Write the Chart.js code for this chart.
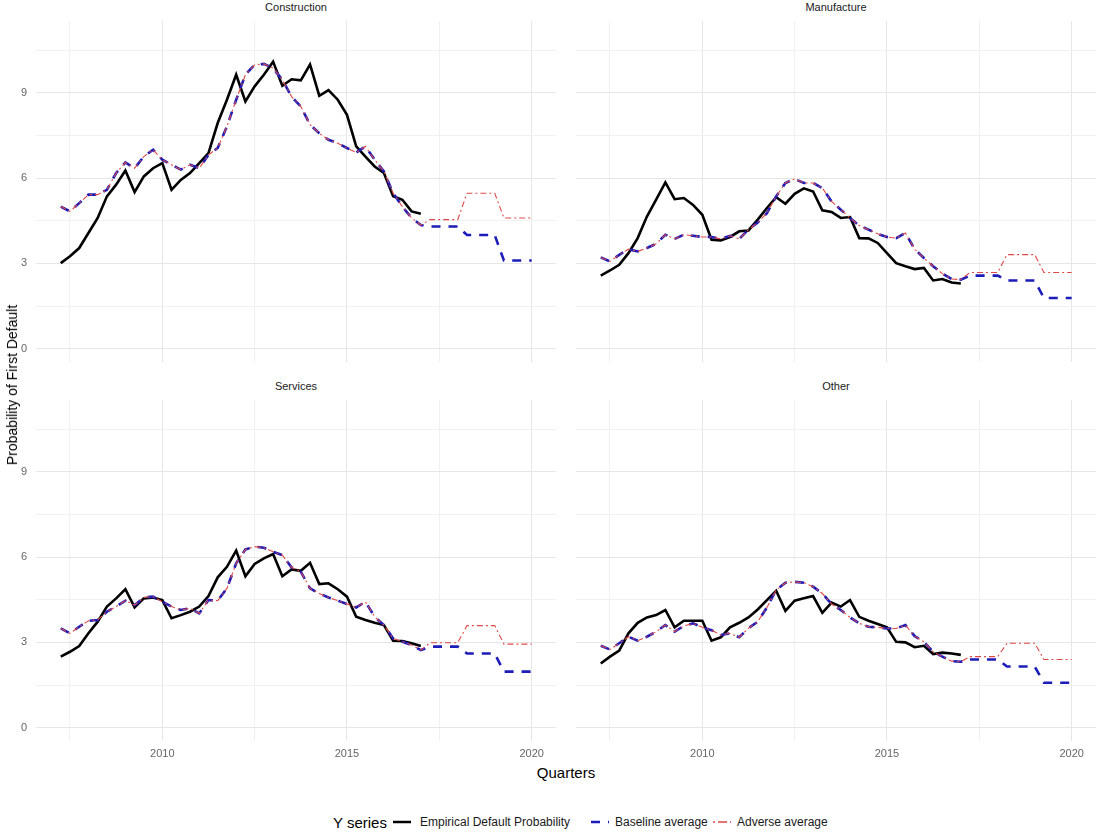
<!DOCTYPE html>
<html>
<head>
<meta charset="utf-8">
<script src="https://cdn.jsdelivr.net/npm/chart.js@4/dist/chart.umd.min.js"></script>
<style>
  body { margin: 0; background: #fff; font-family: "Liberation Sans", Arial, sans-serif; }
  #wrap { position: relative; width: 1096px; height: 833px; overflow: hidden; }
  canvas { position: absolute; }
  .strip { position: absolute; font-size: 11px; color: #1a1a1a; transform: translateX(-50%); white-space: nowrap; }
  .ytitle { position: absolute; left: 12px; top: 385px; font-size: 14px; color: #000;
            transform: translate(-50%, -50%) rotate(-90deg); white-space: nowrap; }
  .xtitle { position: absolute; left: 566px; top: 764px; font-size: 15px; color: #000; transform: translateX(-50%); }
  .lg { position: absolute; top: 822px; transform: translateY(-50%); white-space: nowrap; line-height: 1; }
  .lg.ttl { font-size: 15px; color: #000; }
  .lg.lab { font-size: 12px; color: #1a1a1a; }
  svg.lg { display: block; }
</style>
</head>
<body>
<div id="wrap">
  <canvas id="c1" style="left:0;top:21px" width="556" height="341"></canvas>
  <canvas id="c2" style="left:576px;top:21px" width="520" height="341"></canvas>
  <canvas id="c3" style="left:0;top:400px" width="556" height="362"></canvas>
  <canvas id="c4" style="left:576px;top:400px" width="520" height="362"></canvas>

  <div class="strip" style="left:296px;top:1px">Construction</div>
  <div class="strip" style="left:836px;top:1px">Manufacture</div>
  <div class="strip" style="left:296px;top:380px">Services</div>
  <div class="strip" style="left:836px;top:380px">Other</div>

  <div class="ytitle">Probability of First Default</div>
  <div class="xtitle">Quarters</div>

  <span class="lg ttl" style="left:333px">Y series</span>
  <svg class="lg" style="left:393px" width="18" height="10"><line x1="0" y1="5" x2="18" y2="5" stroke="#000" stroke-width="2.5"/></svg>
  <span class="lg lab" style="left:420px">Empirical Default Probability</span>
  <svg class="lg" style="left:591px" width="18" height="10"><line x1="0" y1="5" x2="18" y2="5" stroke="#1c1cb8" stroke-width="2.5" stroke-dasharray="9 8"/></svg>
  <span class="lg lab" style="left:615px">Baseline average</span>
  <svg class="lg" style="left:713px" width="18" height="10"><line x1="0" y1="5" x2="18" y2="5" stroke="#e04848" stroke-width="1.5" stroke-dasharray="2 3 9 3"/></svg>
  <span class="lg lab" style="left:737px">Adverse average</span>
</div>

<script>
var quarters = [2007.25,2007.5,2007.75,2008,2008.25,2008.5,2008.75,2009,2009.25,2009.5,2009.75,2010,
  2010.25,2010.5,2010.75,2011,2011.25,2011.5,2011.75,2012,2012.25,2012.5,2012.75,2013,
  2013.25,2013.5,2013.75,2014,2014.25,2014.5,2014.75,2015,2015.25,2015.5,2015.75,2016,
  2016.25,2016.5,2016.75,2017,2017.25,2017.5,2017.75,2018,2018.25,2018.5,2018.75,2019,
  2019.25,2019.5,2019.75,2020];

var xMajor = [2010, 2015, 2020];
var xMinor = [2007.5, 2012.5, 2017.5];
var yMajor = [0, 3, 6, 9];
var yMinor = [1.5, 4.5, 7.5, 10.5];

var constructionEmp = [3.01,3.25,3.54,4.07,4.6,5.36,5.77,6.27,5.51,6.06,6.35,6.53,5.59,5.94,6.18,6.53,6.88,7.94,8.76,9.64,
  8.7,9.23,9.64,10.1,9.25,9.48,9.44,10.0,8.9,9.1,8.76,8.23,7.12,6.76,6.41,6.18,5.36,5.24,4.83,4.75];
var constructionBase = [5.0,4.83,5.12,5.42,5.42,5.59,6.18,6.55,6.35,6.76,7.0,6.65,6.47,6.3,6.47,6.35,6.82,7.06,7.82,8.76,
  9.64,9.99,10.02,9.87,9.46,8.87,8.52,7.88,7.58,7.35,7.23,7.06,6.9,7.12,6.65,6.24,5.47,5.0,4.6,4.35,
  4.3,4.3,4.3,4.3,4.0,4.0,4.0,4.0,3.1,3.1,3.1,3.1];
var constructionAdv = [5.0,4.83,5.12,5.42,5.42,5.59,6.18,6.55,6.35,6.76,7.0,6.65,6.47,6.3,6.47,6.35,6.82,7.06,7.82,8.76,
  9.64,9.99,10.02,9.87,9.46,8.87,8.52,7.88,7.58,7.35,7.23,7.06,6.9,7.12,6.65,6.24,5.47,5.0,4.6,4.35,
  4.54,4.54,4.54,4.54,5.47,5.47,5.47,5.47,4.6,4.6,4.6,4.6];

var manufactureEmp = [2.57,2.75,2.95,3.36,3.89,4.65,5.24,5.85,5.26,5.3,5.06,4.71,3.83,3.81,3.93,4.13,4.16,4.54,4.95,5.33,
  5.1,5.45,5.64,5.53,4.87,4.81,4.6,4.63,3.89,3.88,3.72,3.36,3.01,2.9,2.8,2.84,2.4,2.45,2.33,2.29];
var manufactureBase = [3.21,3.07,3.3,3.5,3.42,3.54,3.69,4.01,3.86,4.01,3.97,3.93,3.93,3.86,3.97,3.86,4.19,4.44,4.77,5.36,
  5.83,5.97,5.83,5.83,5.65,5.18,4.89,4.6,4.33,4.19,4.04,3.93,3.89,4.07,3.5,3.19,2.9,2.64,2.45,2.43,
  2.57,2.57,2.57,2.57,2.4,2.4,2.4,2.4,1.78,1.78,1.78,1.78];
var manufactureAdv = [3.21,3.07,3.3,3.5,3.42,3.54,3.69,4.01,3.86,4.01,3.97,3.93,3.93,3.86,3.97,3.86,4.19,4.44,4.77,5.36,
  5.83,5.97,5.83,5.83,5.65,5.18,4.89,4.6,4.33,4.19,4.04,3.93,3.89,4.07,3.5,3.19,2.9,2.64,2.45,2.43,
  2.68,2.68,2.68,2.68,3.31,3.31,3.31,3.31,2.68,2.68,2.68,2.68];

var servicesEmp = [2.5,2.67,2.87,3.32,3.73,4.26,4.55,4.87,4.23,4.55,4.58,4.49,3.85,3.96,4.08,4.26,4.63,5.29,5.66,6.23,
  5.33,5.76,5.96,6.11,5.33,5.57,5.52,5.8,5.05,5.08,4.87,4.61,3.9,3.79,3.69,3.61,3.06,3.05,2.97,2.87];
var servicesBase = [3.49,3.32,3.55,3.76,3.79,4.08,4.26,4.47,4.31,4.58,4.61,4.43,4.26,4.14,4.2,4.02,4.49,4.47,4.9,5.78,
  6.27,6.37,6.33,6.19,6.07,5.64,5.49,4.9,4.72,4.58,4.47,4.35,4.23,4.43,3.9,3.61,3.14,3.02,2.91,2.73,
  2.85,2.85,2.85,2.85,2.61,2.61,2.61,2.61,1.97,1.97,1.97,1.97];
var servicesAdv = [3.49,3.32,3.55,3.76,3.79,4.08,4.26,4.47,4.31,4.58,4.61,4.43,4.26,4.14,4.2,4.02,4.49,4.47,4.9,5.78,
  6.27,6.37,6.33,6.19,6.07,5.64,5.49,4.9,4.72,4.58,4.47,4.35,4.23,4.43,3.9,3.61,3.14,3.02,2.91,2.73,
  2.99,2.99,2.99,2.99,3.59,3.59,3.59,3.59,2.94,2.94,2.94,2.94];

var otherEmp = [2.26,2.5,2.71,3.32,3.69,3.88,3.96,4.14,3.53,3.76,3.76,3.76,3.06,3.18,3.53,3.69,3.88,4.16,4.49,4.82,
  4.11,4.47,4.55,4.63,4.04,4.4,4.26,4.49,3.9,3.76,3.65,3.53,3.02,3.0,2.83,2.88,2.59,2.64,2.61,2.56];
var otherBase = [2.88,2.75,2.97,3.2,3.06,3.2,3.38,3.61,3.38,3.58,3.67,3.53,3.43,3.26,3.32,3.18,3.5,3.73,4.23,4.84,
  5.1,5.13,5.1,4.96,4.72,4.35,4.14,3.88,3.67,3.55,3.53,3.49,3.49,3.61,3.22,3.02,2.67,2.5,2.34,2.32,
  2.4,2.4,2.4,2.4,2.15,2.15,2.15,2.15,1.58,1.58,1.58,1.58];
var otherAdv = [2.88,2.75,2.97,3.2,3.06,3.2,3.38,3.61,3.38,3.58,3.67,3.53,3.43,3.26,3.32,3.18,3.5,3.73,4.23,4.84,
  5.1,5.13,5.1,4.96,4.72,4.35,4.14,3.88,3.67,3.55,3.53,3.49,3.49,3.61,3.22,3.02,2.67,2.5,2.34,2.32,
  2.5,2.5,2.5,2.5,2.97,2.97,2.97,2.97,2.4,2.4,2.4,2.4];

function pts(vals) {
  return vals.map(function(v, i) { return { x: quarters[i], y: v }; });
}

function gridColor(major) {
  return function(ctx) {
    if (!ctx.tick) return '#ebebeb';
    return major.indexOf(ctx.tick.value) >= 0 ? '#e6e6e6' : '#f1f1f1';
  };
}

// chart.js adds label padding around the axes; drop it so the panels line up exactly
function noPad(s) {
  s.paddingTop = 0; s.paddingBottom = 0; s.paddingLeft = 0; s.paddingRight = 0;
}

function makePanel(id, emp, base, adv, showY, showX) {
  var ctx = document.getElementById(id).getContext('2d');
  return new Chart(ctx, {
    type: 'line',
    data: {
      datasets: [
        { label: 'Empirical Default Probability', data: pts(emp), borderColor: '#000', borderWidth: 2.6,
          pointRadius: 0, fill: false, tension: 0, order: 2 },
        { label: 'Baseline average', data: pts(base), borderColor: '#1c1cb8', borderWidth: 2.6,
          borderDash: [9, 8], pointRadius: 0, fill: false, tension: 0, order: 1 },
        { label: 'Adverse average', data: pts(adv), borderColor: '#e04848', borderWidth: 1.1,
          borderDash: [6, 3, 2, 3], pointRadius: 0, fill: false, tension: 0, order: 0 }
      ]
    },
    options: {
      responsive: false,
      animation: false,
      layout: { padding: 0 },
      plugins: { legend: { display: false }, tooltip: { enabled: false } },
      scales: {
        x: {
          type: 'linear', min: 2006.58, max: 2020.66,
          afterBuildTicks: function(s) {
            s.ticks = xMinor.concat(xMajor).sort().map(function(v) { return { value: v }; });
          },
          afterFit: function(s) { s.height = showX ? 21 : 0; noPad(s); },
          border: { display: false },
          grid: { color: gridColor(xMajor), lineWidth: 1, drawTicks: false },
          ticks: {
            display: showX, padding: 6, color: '#666', maxRotation: 0, autoSkip: false,
            font: { family: 'Liberation Sans', size: 11 },
            callback: function(v) { return xMajor.indexOf(v) >= 0 ? String(v) : ''; }
          }
        },
        y: {
          min: -0.47, max: 11.53,
          afterBuildTicks: function(s) {
            s.ticks = yMajor.concat(yMinor).sort(function(a, b) { return a - b; })
              .map(function(v) { return { value: v }; });
          },
          afterFit: function(s) { s.width = showY ? 36 : 0; noPad(s); },
          border: { display: false },
          grid: { color: gridColor(yMajor), lineWidth: 1, drawTicks: false },
          ticks: {
            display: showY, padding: 9, color: '#666', autoSkip: false,
            font: { family: 'Liberation Sans', size: 11 },
            callback: function(v) { return yMajor.indexOf(v) >= 0 ? String(v) : ''; }
          }
        }
      }
    }
  });
}

makePanel('c1', constructionEmp, constructionBase, constructionAdv, true, false);
makePanel('c2', manufactureEmp, manufactureBase, manufactureAdv, false, false);
makePanel('c3', servicesEmp, servicesBase, servicesAdv, true, true);
makePanel('c4', otherEmp, otherBase, otherAdv, false, true);
</script>
</body>
</html>
